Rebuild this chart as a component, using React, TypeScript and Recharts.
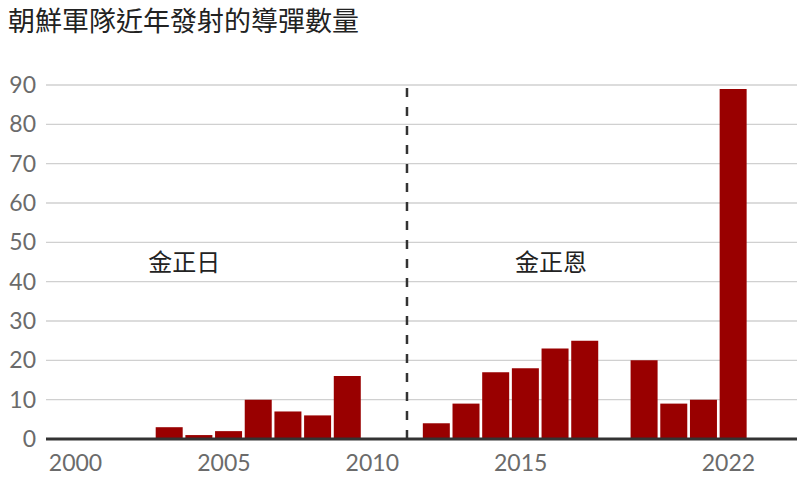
import React from "react";
import {
  Bar,
  BarChart,
  CartesianGrid,
  Label,
  ReferenceDot,
  ReferenceLine,
  XAxis,
  YAxis,
} from "recharts";

const TITLE = "朝鮮軍隊近年發射的導彈數量";
const YEARS = [
  2000, 2001, 2002, 2003, 2004, 2005, 2006, 2007, 2008, 2009, 2010, 2011,
  2012, 2013, 2014, 2015, 2016, 2017, 2018, 2019, 2020, 2021, 2022,
];
const LAUNCHES = [0, 0, 0, 3, 1, 2, 10, 7, 6, 16, 0, 0, 4, 9, 17, 18, 23, 25, 0, 20, 9, 10, 89];
const X_TICKS = [2000, 2005, 2010, 2015, 2022];
const Y_TICKS = [0, 10, 20, 30, 40, 50, 60, 70, 80, 90];
const SPLIT_YEAR = 2011;
const LEADERS = [
  { name: "金正日", year: 2003.5, y: 45 },
  { name: "金正恩", year: 2015.85, y: 45 },
];

const BAR = "#990000";
const TICK = "#6b6b6b";
const FONT = "Lato, 'Noto Sans', sans-serif";

const data = YEARS.map((year, i) => ({ year, count: LAUNCHES[i] }));

export default function App() {
  return (
    <div
      style={{
        position: "absolute",
        left: 0,
        top: 0,
        width: 803,
        height: 482,
        background: "#fff",
      }}
    >
      <div
        style={{
          position: "absolute",
          left: 8,
          top: 6,
          fontFamily: "'Noto Sans CJK TC', sans-serif",
          fontSize: 27,
          lineHeight: 1,
          color: "#222",
          whiteSpace: "nowrap",
        }}
      >
        {TITLE}
      </div>
      <BarChart
        width={803}
        height={482}
        data={data}
        margin={{ top: 85, right: 6, bottom: 0, left: 0 }}
      >
        <CartesianGrid vertical={false} stroke="#d0d0d0" strokeWidth={1.3} />
        <XAxis
          dataKey="year"
          type="number"
          domain={[1998.838, 2024.14]}
          ticks={X_TICKS}
          height={43}
          axisLine={false}
          tickLine={false}
          tickSize={0}
          tickMargin={16}
          tick={{ fill: TICK, fontSize: 23, fontFamily: FONT, dx: -5 }}
          allowDataOverflow
        />
        <YAxis
          domain={[0, 90]}
          ticks={Y_TICKS}
          width={46}
          axisLine={false}
          tickLine={false}
          tickSize={0}
          tickMargin={10}
          tick={{ fill: TICK, fontSize: 23, fontFamily: FONT }}
        />
        <Bar dataKey="count" fill={BAR} barSize={27} isAnimationActive={false} />
        <ReferenceLine y={0} stroke="#333" strokeWidth={3} />
        <ReferenceLine
          x={SPLIT_YEAR}
          stroke="#333"
          strokeWidth={2.5}
          strokeDasharray="9 10"
        />
        {LEADERS.map((l) => (
          <ReferenceDot key={l.name} x={l.year} y={l.y} r={0} stroke="none" fill="none">
            <Label
              value={l.name}
              position="center"
              fill="#222"
              fontSize={24}
              fontFamily="'Noto Sans CJK TC', sans-serif"
            />
          </ReferenceDot>
        ))}
      </BarChart>
    </div>
  );
}
